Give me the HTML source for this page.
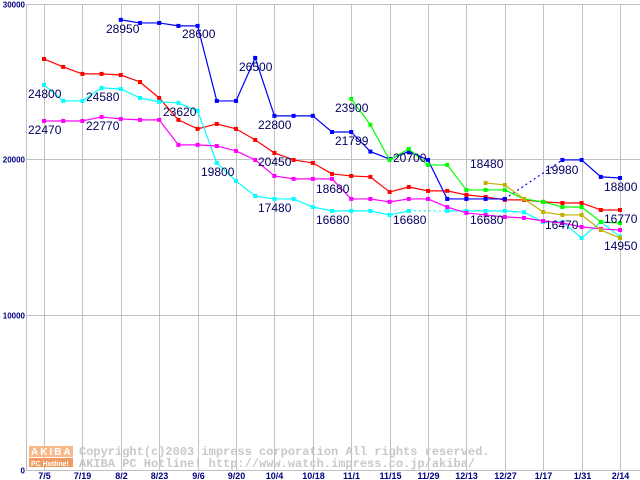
<!DOCTYPE html>
<html><head><meta charset="utf-8"><style>
html,body{margin:0;padding:0;background:#fff}
svg{display:block}
</style></head><body>
<svg id="chart" width="640" height="480" xmlns="http://www.w3.org/2000/svg" font-family="Liberation Sans, sans-serif">
<g id="grid"></g>
<g id="watermark">
<rect x="29" y="446" width="44" height="11" fill="#f7b98a"/>
<text x="31" y="455" font-size="10" font-weight="bold" fill="#fff" letter-spacing="2">AKIBA</text>
<rect x="29" y="458" width="44" height="9" fill="#f29a60"/>
<text x="31" y="466" font-size="7" font-weight="bold" fill="#fff">PC Hotline!</text>
<text x="79" y="455" font-family="Liberation Mono, monospace" font-size="12" fill="#c8c8c8" font-weight="bold">Copyright(c)2003 impress corporation All rights reserved.</text>
<text x="79" y="467" font-family="Liberation Mono, monospace" font-size="12" fill="#c8c8c8" font-weight="bold">AKIBA PC Hotline!  http://www.watch.impress.co.jp/akiba/</text>
</g>
<g id="series"></g>
<g id="labels"></g>
</svg>
<script>
const xLabels = ["7/5","7/19","8/2","8/23","9/6","9/20","10/4","10/18","11/1","11/15","11/29","12/13","12/27","1/17","1/31","2/14"];
const yTicks = [0,10000,20000,30000];
const redValues = [26460,25950,25500,25500,25430,24980,23950,22540,21960,22280,21960,21250,20410,19960,19770,19060,18930,18870,17900,18220,17970,17970,17710,17580,17390,17390,17260,17190,17190,16740,16740];
const cyanValues = [24790,23760,23760,24600,24530,23950,23700,23630,23120,19770,18610,17640,17450,17450,16930,16680,16680,16680,16420,16680,null,16680,16680,16680,16680,16590,15970,15970,14940,15970,15020];
const magentaValues = [22470,22470,22470,22730,22600,22540,22540,20930,20930,20860,20540,19960,18930,18740,18740,18740,17450,17450,17260,17450,17450,16930,16550,16420,16290,16230,16030,15900,15650,15520,15450];
const blueValues = [null,null,null,null,28980,28780,28780,28590,28590,23760,23760,26530,22800,22800,22800,21760,21760,20500,20020,20500,19960,17450,17450,17450,17450,null,null,19960,19960,18870,18800];
const greenValues = [null,null,null,null,null,null,null,null,null,null,null,null,null,null,null,null,23890,22220,19960,20670,19640,19640,18030,18030,18030,17450,17260,16930,16930,15970,15900];
const oliveValues = [null,null,null,null,null,null,null,null,null,null,null,null,null,null,null,null,null,null,null,null,null,null,null,18480,18350,17450,16610,16420,16420,15450,14940];
const seriesColors = ["#ff0000","#00ffff","#ff00ff","#0000ff","#00ff00","#c0b000"];
const allSeries = [redValues,cyanValues,magentaValues,blueValues,greenValues,oliveValues];
const seriesNames = ["series-red","series-cyan","series-magenta","series-blue","series-green","series-olive"];
const valueLabels = [
 ["28950",106,33],["28600",182,38],["26500",239,71],["24800",28,98],["24580",86,101],["23620",163,116],
 ["22470",28,134],["22770",86,130],["22800",258,129],["19800",201,176],["20450",258,166],["17480",258,212],
 ["23900",335,112],["21799",335,145],["20700",393,162],["18680",316,193],["16680",316,224],["16680",393,224],
 ["18480",470,168],["16680",470,224],["19980",545,174],["18800",604,191],["16770",604,223],["16470",545,229],["14950",604,250]
];
const NS="http://www.w3.org/2000/svg";
function xPos(i){return 44+19.2*i;}
function yPos(v){return 470-v*(466/30000);}
function mk(tag,attrs,parent){const e=document.createElementNS(NS,tag);for(const k in attrs)e.setAttribute(k,attrs[k]);parent.appendChild(e);return e;}
const grid=document.getElementById('grid');
mk('rect',{x:0,y:0,width:640,height:480,fill:'#fff'},grid);
for(let k=0;k<xLabels.length;k++){
 const x=Math.round(xPos(2*k))+0.5;
 const l=mk('line',{x1:x,y1:4,x2:x,y2:470,stroke:'#c0c0c0','stroke-width':1},grid);
 
 
 const t=mk('text',{x:x,y:479,'text-anchor':'middle','font-size':9,fill:'#000080','font-weight':'bold'},grid);
 t.textContent=xLabels[k];
 
 
}
for(const v of yTicks){
 const y=Math.round(yPos(v))+0.5;
 const l=mk('line',{x1:26,y1:y,x2:640,y2:y,stroke:'#c0c0c0','stroke-width':1},grid);
 
 
 const t=mk('text',{x:25,y:y+3,'text-anchor':'end','font-size':8,fill:'#000080','font-weight':'bold'},grid);
 t.textContent=String(v);
 
 
}
const ax=mk('line',{x1:26.5,y1:4,x2:26.5,y2:470,stroke:'#c0c0c0'},grid);


const sg=document.getElementById('series');
allSeries.forEach((vals,si)=>{
 const g=mk('g',{},sg);
 
 
 const col=seriesColors[si];
 let prev=-1;
 for(let i=0;i<vals.length;i++){
  if(vals[i]==null)continue;
  if(prev>=0){
   const dashed=(i-prev)>1;
   const l=mk('line',{x1:xPos(prev),y1:yPos(vals[prev]),x2:xPos(i),y2:yPos(vals[i]),stroke:col,'stroke-width':1.2},g);
   if(dashed)l.setAttribute('stroke-dasharray','2,3');
   
   
  }
  prev=i;
 }
 for(let i=0;i<vals.length;i++){
  if(vals[i]==null)continue;
  const r=mk('rect',{x:xPos(i)-2,y:yPos(vals[i])-2,width:4,height:4,fill:col},g);
  
  
 }
});
const lg=document.getElementById('labels');
for(const [txt,x,y] of valueLabels){
 const t=mk('text',{x:x,y:y,'font-size':12,fill:'#000060'},lg);
 t.textContent=txt;
 
 
}
</script>
</body></html>
